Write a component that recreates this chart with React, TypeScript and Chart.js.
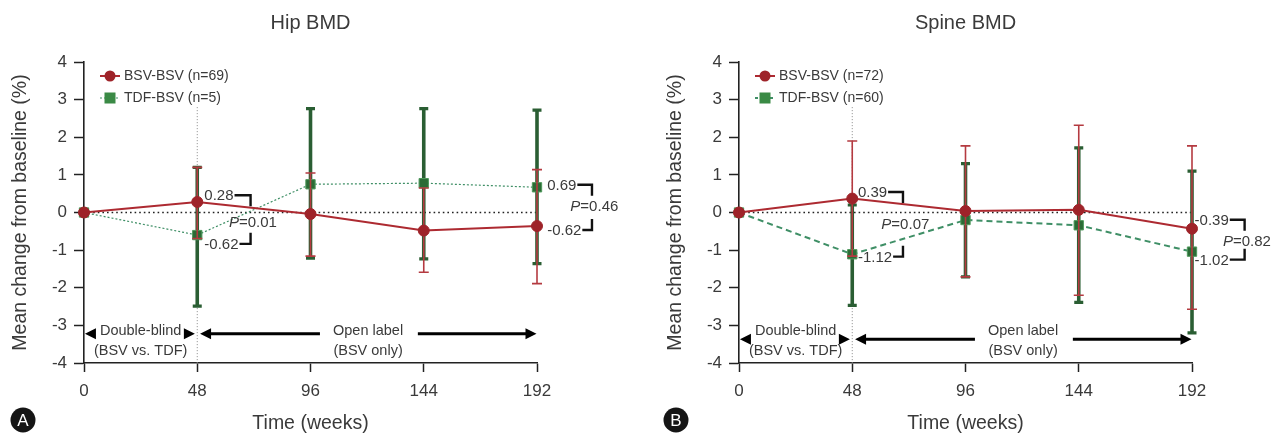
import React, { useEffect, useRef } from "react";
import { Chart, registerables } from "chart.js";

Chart.register(...registerables);

// ---------- data ----------
const weeks = [0, 48, 96, 144, 192];

const hipBsvMean = [0, 0.28, -0.04, -0.48, -0.36];
const hipBsvUpper = [null, 1.2, 1.05, 0.65, 1.14];
const hipBsvLower = [null, -0.69, -1.16, -1.59, -1.89];
const hipTdfMean = [0, -0.6, 0.75, 0.78, 0.67];
const hipTdfUpper = [null, 1.2, 2.76, 2.76, 2.72];
const hipTdfLower = [null, -2.49, -1.21, -1.23, -1.36];

const spineBsvMean = [0, 0.37, 0.04, 0.07, -0.43];
const spineBsvUpper = [null, 1.9, 1.77, 2.32, 1.77];
const spineBsvLower = [null, -1.16, -1.71, -2.2, -2.57];
const spineTdfMean = [0, -1.11, -0.2, -0.34, -1.04];
const spineTdfUpper = [null, 0.2, 1.3, 1.72, 1.1];
const spineTdfLower = [null, -2.47, -1.71, -2.39, -3.2];

const hipLegend = ["BSV-BSV (n=69)", "TDF-BSV (n=5)"];
const spineLegend = ["BSV-BSV (n=72)", "TDF-BSV (n=60)"];

// annotation groups: text left (weeks), top label/y, bottom label/y, P label/y, bracket x (weeks)
const hipNotes = [
  { x: 51, top: "0.28", topY: 0.43, bottom: "-0.62", bottomY: -0.86, p: "0.01", pY: -0.28, bx: 70.6 },
  { x: 196.3, top: "0.69", topY: 0.71, bottom: "-0.62", bottomY: -0.49, p: "0.46", pY: 0.15, bx: 215.3 },
];
const spineNotes = [
  { x: 50.4, top: "0.39", topY: 0.52, bottom: "-1.12", bottomY: -1.2, p: "0.07", pY: -0.33, bx: 69.5 },
  { x: 193.1, top: "-0.39", topY: -0.22, bottom: "-1.02", bottomY: -1.28, p: "0.82", pY: -0.78, bx: 214.3 },
];

const FAM = "'Liberation Sans', Arial, sans-serif";
const TXT = "#3a3a3a";
const RED_LINE = "#ad2a31";
const RED_PT = "#9e2329";
const RED_BAR = "#b43a40";
const GREEN_LINE = "#3f8f66";
const GREEN_PT = "#2b6b36";
const GREEN_BAR = "#2a5e33";

type PanelCfg = {
  title: string;
  badge: string;
  badgeX: number;
  legend: string[];
  bsvMean: number[];
  bsvUp: (number | null)[];
  bsvLow: (number | null)[];
  tdfMean: number[];
  tdfUp: (number | null)[];
  tdfLow: (number | null)[];
  notes: typeof hipNotes;
  dotted: boolean;
  arrowY: number;
  yWidth: number;
  yTitlePad: number;
  padRight: number;
  width: number;
};

function drawTri(ctx: CanvasRenderingContext2D, tipX: number, y: number, dir: number) {
  const w = 11, h = 11;
  ctx.beginPath();
  ctx.moveTo(tipX, y);
  ctx.lineTo(tipX - dir * w, y - h / 2);
  ctx.lineTo(tipX - dir * w, y + h / 2);
  ctx.closePath();
  ctx.fill();
}

function makePlugin(cfg: PanelCfg) {
  const drawBars = (chart: any, up: (number | null)[], low: (number | null)[], color: string, lw: number, capHalf: number, capW: number) => {
    const ctx = chart.ctx as CanvasRenderingContext2D;
    const xs = chart.scales.x, ys = chart.scales.y;
    ctx.save();
    ctx.strokeStyle = color;
    ctx.lineCap = "butt";
    for (let i = 0; i < weeks.length; i++) {
      const u = up[i], l = low[i];
      if (u == null || l == null) continue;
      const x = xs.getPixelForValue(weeks[i]);
      const yu = ys.getPixelForValue(u);
      const yl = ys.getPixelForValue(l);
      ctx.lineWidth = lw;
      ctx.beginPath();
      ctx.moveTo(x, yu);
      ctx.lineTo(x, yl);
      ctx.stroke();
      ctx.lineWidth = capW;
      ctx.beginPath();
      ctx.moveTo(x - capHalf, yu);
      ctx.lineTo(x + capHalf, yu);
      ctx.moveTo(x - capHalf, yl);
      ctx.lineTo(x + capHalf, yl);
      ctx.stroke();
    }
    ctx.restore();
  };

  return {
    id: "panel_" + cfg.badge,
    beforeDatasetsDraw(chart: any) {
      const ctx = chart.ctx as CanvasRenderingContext2D;
      const xs = chart.scales.x, ys = chart.scales.y;
      ctx.save();
      // zero reference line
      ctx.strokeStyle = "#222";
      ctx.lineWidth = 1.6;
      ctx.setLineDash([1.6, 3]);
      ctx.beginPath();
      ctx.moveTo(xs.getPixelForValue(0), ys.getPixelForValue(0));
      ctx.lineTo(xs.getPixelForValue(192), ys.getPixelForValue(0));
      ctx.stroke();
      // vertical phase line at week 48
      ctx.strokeStyle = "#8a8a8a";
      ctx.lineWidth = 1;
      ctx.setLineDash([1, 2]);
      ctx.beginPath();
      ctx.moveTo(xs.getPixelForValue(48), ys.getPixelForValue(2.8));
      ctx.lineTo(xs.getPixelForValue(48), ys.getPixelForValue(-4));
      ctx.stroke();
      ctx.restore();
    },
    beforeDatasetDraw(chart: any, args: any) {
      if (args.index === 1) drawBars(chart, cfg.tdfUp, cfg.tdfLow, GREEN_BAR, 3.6, 4.5, 3.2);
    },
    afterDatasetDraw(chart: any, args: any) {
      if (args.index === 1) drawBars(chart, cfg.bsvUp, cfg.bsvLow, RED_BAR, 1.6, 5, 1.6);
    },
    afterDraw(chart: any) {
      const ctx = chart.ctx as CanvasRenderingContext2D;
      const xs = chart.scales.x, ys = chart.scales.y;
      const area = chart.chartArea;
      const X = (v: number) => xs.getPixelForValue(v);
      const Y = (v: number) => ys.getPixelForValue(v);
      ctx.save();

      // title
      ctx.fillStyle = TXT;
      ctx.font = `20px ${FAM}`;
      ctx.textAlign = "center";
      ctx.textBaseline = "middle";
      ctx.fillText(cfg.title, (area.left + area.right) / 2, 23);

      // legend
      const lx = area.left + 26;
      const ly = [area.top + 14, area.top + 36];
      ctx.strokeStyle = RED_LINE;
      ctx.lineWidth = 2;
      ctx.setLineDash([]);
      ctx.beginPath();
      ctx.moveTo(lx - 10, ly[0]);
      ctx.lineTo(lx + 10, ly[0]);
      ctx.stroke();
      ctx.fillStyle = RED_PT;
      ctx.beginPath();
      ctx.arc(lx, ly[0], 5.5, 0, Math.PI * 2);
      ctx.fill();
      ctx.strokeStyle = GREEN_LINE;
      ctx.lineWidth = cfg.dotted ? 1.2 : 2;
      ctx.setLineDash(cfg.dotted ? [2, 2] : [3, 2]);
      ctx.beginPath();
      ctx.moveTo(lx - 10, ly[1]);
      ctx.lineTo(lx + 10, ly[1]);
      ctx.stroke();
      ctx.setLineDash([]);
      ctx.fillStyle = "#3a8a45";
      ctx.fillRect(lx - 5.5, ly[1] - 5.5, 11, 11);
      ctx.fillStyle = TXT;
      ctx.font = `14px ${FAM}`;
      ctx.textAlign = "left";
      ctx.fillText(cfg.legend[0], area.left + 40, ly[0]);
      ctx.fillText(cfg.legend[1], area.left + 40, ly[1]);

      // annotations
      const size = 15;
      ctx.strokeStyle = "#111";
      ctx.lineWidth = 2.4;
      for (const n of cfg.notes) {
        ctx.fillStyle = TXT;
        ctx.textAlign = "left";
        ctx.font = `${size}px ${FAM}`;
        const x0 = X(n.x);
        const bx = X(n.bx);
        const yt = Y(n.topY);
        const yb = Y(n.bottomY);
        ctx.fillText(n.top, x0, yt);
        const wt = ctx.measureText(n.top).width;
        ctx.fillText(n.bottom, x0, yb);
        const wb = ctx.measureText(n.bottom).width;
        ctx.beginPath();
        ctx.moveTo(x0 + wt + 1, yt - 1);
        ctx.lineTo(bx, yt - 1);
        ctx.lineTo(bx, yt + 10);
        ctx.moveTo(x0 + wb + 1, yb - 1);
        ctx.lineTo(bx, yb - 1);
        ctx.lineTo(bx, yb - 12);
        ctx.stroke();
        const fi = `italic ${size}px ${FAM}`;
        const fr = `${size}px ${FAM}`;
        ctx.font = fi;
        const wP = ctx.measureText("P").width;
        ctx.font = fr;
        const wR = ctx.measureText("=" + n.p).width;
        const cx = X(n.bx + 1);
        const start = cx - (wP + wR) / 2;
        const py = Y(n.pY);
        ctx.font = fi;
        ctx.fillText("P", start, py);
        ctx.font = fr;
        ctx.fillText("=" + n.p, start + wP, py);
      }

      // study phases
      ctx.fillStyle = "#000";
      ctx.strokeStyle = "#000";
      const ay = Y(cfg.arrowY);
      drawTri(ctx, X(0.4), ay, -1);
      drawTri(ctx, X(47), ay, 1);
      drawTri(ctx, X(49.2), ay, -1);
      drawTri(ctx, X(191.8), ay, 1);
      ctx.lineWidth = 3;
      ctx.beginPath();
      ctx.moveTo(X(49.2) + 8, ay);
      ctx.lineTo(X(100), ay);
      ctx.moveTo(X(141.5), ay);
      ctx.lineTo(X(191.8) - 8, ay);
      ctx.stroke();
      ctx.fillStyle = TXT;
      ctx.font = `14.5px ${FAM}`;
      ctx.textAlign = "center";
      ctx.fillText("Double-blind", X(24), Y(-3.15));
      ctx.fillText("(BSV vs. TDF)", X(24), Y(-3.68));
      ctx.fillText("Open label", X(120.4), Y(-3.15));
      ctx.fillText("(BSV only)", X(120.4), Y(-3.68));

      // badge
      ctx.fillStyle = "#151515";
      ctx.beginPath();
      ctx.arc(cfg.badgeX, 420, 12.5, 0, Math.PI * 2);
      ctx.fill();
      ctx.fillStyle = "#fff";
      ctx.font = `17px ${FAM}`;
      ctx.textAlign = "center";
      ctx.fillText(cfg.badge, cfg.badgeX, 421);
      ctx.restore();
    },
  };
}

function Panel({ cfg, left }: { cfg: PanelCfg; left: number }) {
  const ref = useRef<HTMLCanvasElement | null>(null);
  useEffect(() => {
    if (!ref.current) return;
    const chart = new Chart(ref.current, {
      type: "line",
      data: {
        datasets: [
          {
            data: weeks.map((w, i) => ({ x: w, y: cfg.bsvMean[i] })),
            borderColor: RED_LINE,
            borderWidth: 2,
            pointStyle: "circle",
            pointRadius: 5.5,
            pointBackgroundColor: RED_PT,
            pointBorderColor: RED_PT,
            pointBorderWidth: 1,
            clip: false,
            tension: 0,
          } as any,
          {
            data: weeks.map((w, i) => ({ x: w, y: cfg.tdfMean[i] })),
            borderColor: GREEN_LINE,
            borderWidth: cfg.dotted ? 1.2 : 2,
            borderDash: cfg.dotted ? [2, 2] : [6, 4],
            pointStyle: "rect",
            pointRadius: 6.6,
            pointBackgroundColor: GREEN_PT,
            pointBorderColor: "#4f9a5c",
            pointBorderWidth: 1,
            clip: false,
            tension: 0,
          } as any,
        ],
      },
      options: {
        responsive: false,
        animation: false,
        events: [],
        layout: { padding: { top: 62, right: cfg.padRight, bottom: 0, left: 0 } },
        plugins: {
          legend: { display: false },
          tooltip: { enabled: false },
          title: { display: false },
        },
        scales: {
          x: {
            type: "linear",
            min: 0,
            max: 192,
            ticks: {
              stepSize: 48,
              autoSkip: false,
              maxRotation: 0,
              font: { family: FAM, size: 17 },
              color: TXT,
              padding: 9,
            },
            grid: {
              display: true,
              drawOnChartArea: false,
              drawTicks: true,
              tickLength: 9,
              tickWidth: 1.5,
              tickColor: "#222",
            },
            border: { display: true, color: "#222", width: 1.6 },
            title: {
              display: true,
              text: "Time (weeks)",
              font: { family: FAM, size: 19.5 },
              color: TXT,
              padding: { top: 0, bottom: 0 },
            },
            afterFit: (s: any) => {
              s.height = 72;
            },
          },
          y: {
            type: "linear",
            min: -4,
            max: 4,
            ticks: {
              stepSize: 1,
              font: { family: FAM, size: 17 },
              color: TXT,
              padding: 7,
            },
            grid: {
              display: true,
              drawOnChartArea: false,
              drawTicks: true,
              tickLength: 10,
              tickWidth: 1.5,
              tickColor: "#222",
            },
            border: { display: true, color: "#222", width: 1.6 },
            title: {
              display: true,
              text: "Mean change from baseline (%)",
              font: { family: FAM, size: 19.5 },
              color: TXT,
              padding: { top: cfg.yTitlePad, bottom: 0 },
            },
            afterFit: (s: any) => {
              s.width = cfg.yWidth;
            },
          },
        },
      } as any,
      plugins: [makePlugin(cfg)],
    });
    return () => chart.destroy();
  }, [cfg]);
  return (
    <canvas
      ref={ref}
      width={cfg.width}
      height={435}
      style={{ position: "absolute", left, top: 0, width: cfg.width, height: 435 }}
    />
  );
}

const hipCfg: PanelCfg = {
  title: "Hip BMD",
  badge: "A",
  badgeX: 23,
  legend: hipLegend,
  bsvMean: hipBsvMean,
  bsvUp: hipBsvUpper,
  bsvLow: hipBsvLower,
  tdfMean: hipTdfMean,
  tdfUp: hipTdfUpper,
  tdfLow: hipTdfLower,
  notes: hipNotes,
  dotted: true,
  arrowY: -3.22,
  yWidth: 84,
  yTitlePad: 9,
  padRight: 103,
  width: 640,
};

const spineCfg: PanelCfg = {
  title: "Spine BMD",
  badge: "B",
  badgeX: 36,
  legend: spineLegend,
  bsvMean: spineBsvMean,
  bsvUp: spineBsvUpper,
  bsvLow: spineBsvLower,
  tdfMean: spineTdfMean,
  tdfUp: spineTdfUpper,
  tdfLow: spineTdfLower,
  notes: spineNotes,
  dotted: false,
  arrowY: -3.37,
  yWidth: 99,
  yTitlePad: 24,
  padRight: 87,
  width: 639,
};

export default function App() {
  return (
    <div style={{ position: "absolute", left: 0, top: 0, width: 1279, height: 435, background: "#fff" }}>
      <Panel cfg={hipCfg} left={0} />
      <Panel cfg={spineCfg} left={640} />
    </div>
  );
}
